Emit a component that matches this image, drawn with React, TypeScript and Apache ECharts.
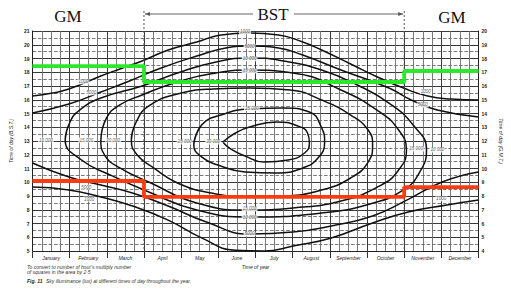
import React, { useEffect, useRef } from "react";
import * as echarts from "echarts";

const months = ["January", "February", "March", "April", "May", "June", "July", "August", "September", "October", "November", "December"];

// contour lines, [month position, hour of day (B.S.T.)]
const c1000Evening = [[0, 16.27], [0.54, 16.49], [0.98, 16.78], [1.84, 17.73], [2.35, 18.24], [2.95, 18.82], [3.65, 19.62], [4.42, 20.2], [5.07, 20.71], [5.84, 20.85], [6.62, 20.71], [7.27, 20.2], [7.78, 19.62], [8.56, 18.6], [9.34, 17.58], [9.98, 16.85], [10.63, 16.27], [11.27, 16.05], [12, 15.98]];
const c1000Morning = [[0, 9.65], [0.98, 9.44], [1.84, 8.93], [2.69, 8.27], [3.65, 7.25], [4.55, 5.95], [5.46, 5.05], [6.23, 5.0], [7.01, 5.36], [8.04, 5.95], [9.15, 7.04], [10.11, 7.84], [11.15, 8.35], [12, 8.71]];
const c5000Evening = [[0, 15.04], [0.98, 15.69], [1.84, 16.56], [2.61, 17.36], [3.39, 18.24], [4.42, 19.18], [5.2, 19.76], [5.84, 19.91], [6.62, 19.76], [7.27, 19.25], [8.3, 18.16], [9.59, 16.85], [10.19, 15.98], [10.89, 15.25], [12, 14.75]];
const c5000Morning = [[0, 11.4], [0.98, 10.38], [1.84, 9.8], [2.69, 9.22], [3.65, 8.27], [4.68, 7.11], [5.84, 6.24], [7.01, 6.38], [8.04, 6.82], [9.15, 7.55], [10.03, 8.64], [11.02, 10.02], [12, 10.75]];
const ring10000 = [[0.88, 13.07], [1.01, 14.38], [1.27, 15.25], [1.84, 16.13], [2.95, 17.0], [3.9, 17.95], [4.94, 18.75], [5.84, 19.04], [6.75, 18.82], [7.78, 18.16], [8.74, 17.07], [9.59, 15.76], [10.24, 14.16], [10.6, 12.35], [10.42, 10.75], [9.98, 9.44], [9.08, 8.42], [7.78, 7.76], [5.84, 7.47], [4.42, 7.98], [3.13, 9.29], [2.09, 10.53], [1.32, 11.62], [0.88, 13.07]];
const ring15000 = [[1.84, 13.07], [1.99, 14.67], [2.35, 15.62], [2.95, 16.35], [3.9, 17.29], [4.94, 17.95], [5.84, 18.16], [7.01, 17.95], [8.3, 16.71], [9.34, 15.11], [9.85, 13.8], [10.06, 12.35], [9.85, 10.89], [9.34, 9.73], [8.3, 8.64], [7.01, 8.13], [5.84, 7.98], [4.42, 8.49], [3.13, 10.02], [2.35, 11.04], [1.94, 11.98], [1.84, 13.07]];
const ring20000 = [[2.66, 13.07], [2.79, 14.38], [3.13, 15.55], [3.9, 16.42], [4.86, 16.78], [5.84, 16.85], [6.93, 16.71], [7.78, 15.98], [8.56, 14.89], [9.03, 13.8], [9.15, 12.71], [9.03, 11.47], [8.56, 10.31], [7.78, 9.44], [6.75, 9.0], [5.84, 8.93], [4.81, 9.22], [3.9, 9.95], [3.26, 11.04], [2.82, 11.98], [2.66, 13.07]];
const ring25000 = [[4.34, 12.71], [4.55, 14.16], [5.07, 14.89], [5.84, 15.33], [6.75, 15.4], [7.45, 15.11], [7.78, 13.95], [7.86, 12.93], [7.68, 11.76], [7.27, 11.04], [6.57, 10.67], [5.72, 10.75], [4.99, 11.25], [4.55, 11.84], [4.34, 12.71]];
const ring30000 = [[5.12, 12.93], [5.46, 13.58], [5.84, 14.02], [6.57, 14.38], [7.14, 14.09], [7.4, 13.58], [7.45, 12.85], [7.32, 12.13], [6.88, 11.62], [6.23, 11.47], [5.72, 11.91], [5.33, 12.42], [5.12, 12.93]];

const contourLabels = [
  [5.72, 20.93, "1000"], [5.84, 19.88, "5000"], [5.84, 18.98, "10 000"], [5.84, 18.1, "15 000"],
  [5.9, 15.36, "25 000"], [0.36, 13.07, "10 000"], [1.45, 13.07, "15 000"], [2.17, 13.07, "20 000"],
  [4.09, 12.93, "25 000"], [4.86, 12.93, "30 000"], [10.32, 12.42, "15 000"], [10.89, 12.35, "10 000"],
  [10.58, 16.6, "1000"], [10.5, 15.62, "5000"], [5.84, 8.06, "15 000"], [5.84, 7.47, "10 000"],
  [5.84, 6.24, "5000"], [1.45, 9.65, "5000"], [1.53, 8.78, "1000"], [11.0, 8.8, "1000"],
  [1.37, 17.3, "1000"], [1.58, 16.5, "5000"],
];

// overlay step lines
const greenLine = [[0, 18.45], [3, 18.45], [3, 17.29], [10, 17.29], [10, 18.09], [12, 18.09]];
const redLine = [[0, 10.09], [3, 10.09], [3, 8.93], [10, 8.93], [10, 9.65], [12, 9.65]];
const bstStart = 3;
const bstEnd = 10;

const closeRing = (r: number[][]) => [...r, r[1]];

export default function App() {
  const ref = useRef<HTMLDivElement>(null);
  useEffect(() => {
    if (!ref.current) return;
    const chart = echarts.init(ref.current, undefined, { renderer: "svg" });
    const contour = (data: number[][]) => ({
      type: "line",
      data,
      smooth: 0.5,
      symbol: "none",
      lineStyle: { color: "#111", width: 1.5 },
      z: 3,
      silent: true,
    });
    const small = { fontSize: 5, fontFamily: "Liberation Sans", color: "#222" };
    chart.setOption({
      animation: false,
      backgroundColor: "#fff",
      grid: { left: 28, right: 17, top: 31, bottom: 41 },
      xAxis: [
        {
          type: "value", min: 0, max: 12, interval: 1,
          axisLabel: { show: false }, axisTick: { show: false },
          axisLine: { show: true, lineStyle: { color: "#222" } },
          splitLine: { show: true, lineStyle: { color: "#3a3a3a", width: 1 } },
          minorTick: { show: false, splitNumber: 4 },
          minorSplitLine: { show: true, lineStyle: { color: "#6a6a6a", width: 0.9 } },
        },
        {
          type: "category", data: months, position: "bottom", boundaryGap: true,
          axisLine: { show: false },
          axisTick: { show: true, length: 7, lineStyle: { color: "#333" } },
          axisLabel: { ...small, fontStyle: "italic", margin: 4 },
          splitLine: { show: false },
          name: "Time of year", nameLocation: "middle", nameGap: 11,
          nameTextStyle: { ...small, fontStyle: "italic" },
        },
      ],
      yAxis: [
        {
          type: "value", min: 5, max: 21, interval: 1, position: "left",
          axisLine: { show: true, lineStyle: { color: "#222" } }, axisTick: { show: false },
          axisLabel: { ...small, fontWeight: "bold", margin: 3 },
          splitLine: { show: true, lineStyle: { color: "#3a3a3a" } },
          minorTick: { show: false, splitNumber: 2 },
          minorSplitLine: { show: true, lineStyle: { color: "#6a6a6a", type: "dashed", width: 0.9 } },
          name: "Time of day (B.S.T.)", nameLocation: "middle", nameGap: 12, nameRotate: 90,
          nameTextStyle: { ...small, fontStyle: "italic" },
        },
        {
          type: "value", min: 4, max: 20, interval: 1, position: "right",
          axisLine: { show: true, lineStyle: { color: "#222" } }, axisTick: { show: false },
          axisLabel: { ...small, fontWeight: "bold", margin: 3 },
          splitLine: { show: false },
          name: "Time of day (G.M.T.)", nameLocation: "middle", nameGap: 12, nameRotate: -90,
          nameTextStyle: { ...small, fontStyle: "italic" },
        },
      ],
      series: [
        contour(c1000Evening), contour(c1000Morning), contour(c5000Evening), contour(c5000Morning),
        contour(closeRing(ring10000)), contour(closeRing(ring15000)), contour(closeRing(ring20000)),
        contour(closeRing(ring25000)), contour(ring30000),
        {
          type: "scatter", data: contourLabels, symbolSize: 0, z: 4, silent: true,
          label: {
            show: true, position: "inside", formatter: (p: any) => p.value[2],
            fontSize: 4.5, fontStyle: "italic", color: "#333", backgroundColor: "#fff", padding: [0, 1],
          },
        },
        { type: "line", data: greenLine, symbol: "none", lineStyle: { color: "#2ce82c", width: 3.8 }, z: 6, silent: true },
        { type: "line", data: redLine, symbol: "none", lineStyle: { color: "#ff3b12", width: 3.8 }, z: 6, silent: true },
      ],
    });
    const xa = chart.convertToPixel({ xAxisIndex: 0 }, bstStart) as number;
    const xb = chart.convertToPixel({ xAxisIndex: 0 }, bstEnd) as number;
    const yb = chart.convertToPixel({ yAxisIndex: 0 }, 5) as number;
    const serif = "17px 'Liberation Serif', 'Times New Roman', serif";
    chart.setOption({
      graphic: [
        { type: "line", shape: { x1: xa, y1: 11, x2: xa, y2: yb }, style: { stroke: "#555", lineWidth: 1, lineDash: [2, 2] }, z: 5 },
        { type: "line", shape: { x1: xb, y1: 11, x2: xb, y2: yb }, style: { stroke: "#555", lineWidth: 1, lineDash: [2, 2] }, z: 5 },
        { type: "line", shape: { x1: xa + 1, y1: 14, x2: 253, y2: 14 }, style: { stroke: "#666", lineWidth: 1 } },
        { type: "line", shape: { x1: 294, y1: 14, x2: xb - 1, y2: 14 }, style: { stroke: "#666", lineWidth: 1 } },
        { type: "polygon", shape: { points: [[xa + 1, 14], [xa + 6, 12], [xa + 6, 16]] }, style: { fill: "#555" } },
        { type: "polygon", shape: { points: [[xb - 1, 14], [xb - 6, 12], [xb - 6, 16]] }, style: { fill: "#555" } },
        { type: "text", x: 68, y: 16, style: { text: "GM", font: serif, fill: "#111", align: "center", verticalAlign: "middle" } },
        { type: "text", x: 273, y: 14, style: { text: "BST", font: serif, fill: "#111", align: "center", verticalAlign: "middle" } },
        { type: "text", x: 452, y: 17, style: { text: "GM", font: serif, fill: "#111", align: "center", verticalAlign: "middle" } },
        { type: "text", x: 27, y: 267, style: { text: "To convert to number of hour's multiply number", font: "italic 5px 'Liberation Sans'", fill: "#333", verticalAlign: "middle" } },
        { type: "text", x: 27, y: 271.5, style: { text: "of squares in the area by 2·5", font: "italic 5px 'Liberation Sans'", fill: "#333", verticalAlign: "middle" } },
        { type: "text", x: 27, y: 281, style: { text: "Fig. 11", font: "bold italic 5px 'Liberation Sans'", fill: "#222", verticalAlign: "middle" } },
        { type: "text", x: 46, y: 281, style: { text: "Sky illuminance (lux) at different times of day throughout the year.", font: "italic 5px 'Liberation Sans'", fill: "#333", verticalAlign: "middle" } },
      ],
    });
    return () => chart.dispose();
  }, []);
  return <div ref={ref} style={{ width: 511, height: 292, position: "absolute", left: 0, top: 0 }} />;
}
